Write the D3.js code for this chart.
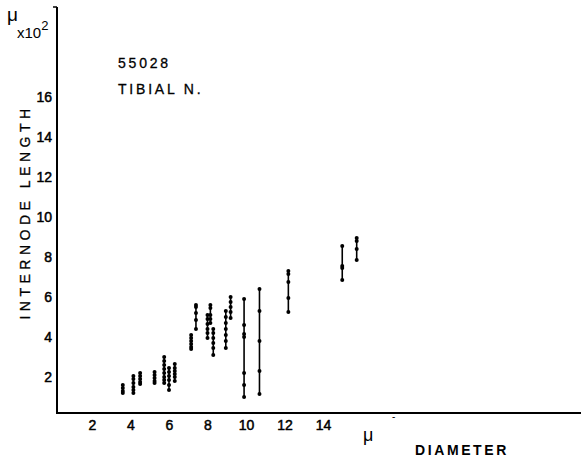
<!DOCTYPE html>
<html><head><meta charset="utf-8">
<script src="https://cdn.jsdelivr.net/npm/d3@7"></script>
<style>
body{margin:0;background:#fff}
svg text{font-family:"Liberation Sans",Arial,Helvetica,sans-serif;fill:#000}
</style>
</head><body>
<svg id="c" width="581" height="466"></svg>
<script>
// Diameter (μ) of each measured group
const diameters = [3.6, 4.15, 4.5, 5.25, 5.75, 6.0, 6.3, 7.15, 7.4, 8.0, 8.15, 8.3, 8.95, 9.2, 9.9, 10.7, 12.2, 15.0, 15.75];
// Internode lengths (μ x10²) measured at each diameter
const lengths = [
  [1.6, 1.45, 1.3, 1.2],
  [2.05, 1.9, 1.7, 1.5, 1.35, 1.2],
  [2.2, 2.05, 1.9, 1.75, 1.65],
  [2.25, 2.1, 1.95, 1.8, 1.7],
  [3.0, 2.8, 2.6, 2.4, 2.2, 2.0, 1.85, 1.7],
  [2.45, 2.25, 2.05, 1.85, 1.6, 1.35],
  [2.65, 2.45, 2.3, 2.15, 2.0, 1.8],
  [4.1, 3.95, 3.8, 3.65, 3.5, 3.4],
  [5.6, 5.5, 5.2, 4.85, 4.4],
  [5.1, 4.9, 4.65, 4.4, 4.2, 3.95],
  [5.6, 5.45, 5.1, 4.9, 4.7],
  [4.4, 4.2, 3.95, 3.7, 3.45, 3.1],
  [5.3, 5.0, 4.7, 4.4, 4.1, 3.8, 3.45],
  [6.0, 5.75, 5.5, 5.25, 4.95],
  [5.9, 4.6, 4.15, 4.0, 2.2, 1.6, 1.0],
  [6.4, 5.3, 3.8, 2.3, 1.15],
  [7.3, 7.15, 6.75, 5.95, 5.25],
  [8.55, 7.55, 7.45, 6.85],
  [8.95, 8.8, 8.4, 7.85]
];
const xTicks = [2, 4, 6, 8, 10, 12, 14];
const yTicks = [2, 4, 6, 8, 10, 12, 14, 16];
const titleLines = ["55028", "TIBIAL N."];

const svg = d3.select("#c");
const x = d3.scaleLinear().domain([2, 14]).range([92, 323]);
const y = d3.scaleLinear().domain([2, 16]).range([377, 97]);

const axisX = 57, axisY = 413;

// axis lines
svg.append("line").attr("x1", axisX).attr("x2", axisX).attr("y1", 7).attr("y2", axisY + 1)
  .attr("stroke", "#000").attr("stroke-width", 2);
svg.append("line").attr("x1", axisX - 4).attr("x2", axisX).attr("y1", 7).attr("y2", 7)
  .attr("stroke", "#000").attr("stroke-width", 1.5);
svg.append("line").attr("x1", axisX).attr("x2", 581).attr("y1", axisY).attr("y2", axisY)
  .attr("stroke", "#000").attr("stroke-width", 2);

// tick labels
const gx = svg.append("g").attr("transform", `translate(0,${axisY})`)
  .call(d3.axisBottom(x).tickValues(xTicks).tickSize(0).tickPadding(7).tickFormat(d3.format("d")));
gx.select(".domain").remove();
gx.selectAll("text").attr("font-size", 14).attr("font-family", "Liberation Sans, Arial, sans-serif")
  .attr("stroke", "#000").attr("stroke-width", 0.5).attr("fill", "#000");

const gy = svg.append("g").attr("transform", `translate(${axisX},0)`)
  .call(d3.axisLeft(y).tickValues(yTicks).tickSize(0).tickPadding(5).tickFormat(d3.format("d")));
gy.select(".domain").remove();
gy.selectAll("text").attr("font-size", 14).attr("font-family", "Liberation Sans, Arial, sans-serif")
  .attr("stroke", "#000").attr("stroke-width", 0.5).attr("fill", "#000");

// unit labels
svg.append("text").attr("x", 7).attr("y", 21).attr("font-size", 19).text("μ");
const u = svg.append("text").attr("x", 17).attr("y", 38).attr("font-size", 15);
u.append("tspan").text("x10");
u.append("tspan").attr("dy", -8).attr("font-size", 13).text("2");

svg.append("text").attr("x", 363).attr("y", 441).attr("font-size", 18).text("μ");
svg.append("text").attr("x", 392).attr("y", 420).attr("font-size", 10).text("-");
svg.append("text").attr("x", 415).attr("y", 455).attr("font-size", 14).attr("font-weight", "bold")
  .attr("letter-spacing", 2.6).text("DIAMETER");

svg.append("text").attr("transform", "translate(30,212) rotate(-90)").attr("text-anchor", "middle")
  .attr("font-size", 14).attr("letter-spacing", 4.5)
  .attr("stroke", "#000").attr("stroke-width", 0.3).text("INTERNODE LENGTH");

svg.selectAll("text.title").data(titleLines).join("text").attr("class", "title")
  .attr("x", 118).attr("y", (d, i) => 68 + i * 26).attr("font-size", 14).attr("letter-spacing", 2.8)
  .attr("stroke", "#000").attr("stroke-width", 0.3)
  .text(d => d);

// data
const groups = diameters.map((d, i) => ({d, v: lengths[i]}));
const g = svg.append("g");
g.selectAll("line.range").data(groups).join("line").attr("class", "range")
  .attr("x1", d => x(d.d)).attr("x2", d => x(d.d))
  .attr("y1", d => y(d3.max(d.v))).attr("y2", d => y(d3.min(d.v)))
  .attr("stroke", "#000").attr("stroke-width", 1.6);
const pts = groups.flatMap(d => d.v.map(v => ({d: d.d, v})));
g.selectAll("circle").data(pts).join("circle")
  .attr("cx", d => x(d.d)).attr("cy", d => y(d.v)).attr("r", 2).attr("fill", "#000");
</script>
</body></html>
